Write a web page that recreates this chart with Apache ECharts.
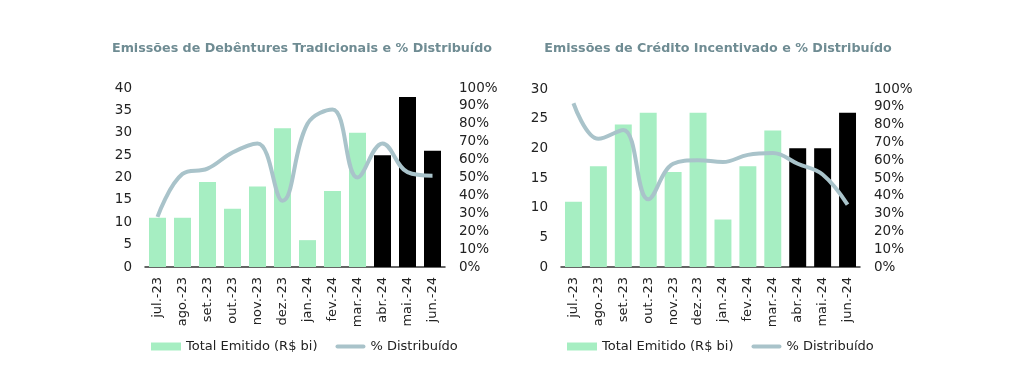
<!DOCTYPE html>
<html>
<head>
<meta charset="utf-8">
<script src="https://cdn.jsdelivr.net/npm/echarts@6/dist/echarts.min.js"></script>
<style>
html,body{margin:0;padding:0;background:#fff;}
#c{width:1024px;height:387px;}
</style>
</head>
<body>
<div id="c"></div>
<script>
const categories = ['jul.-23','ago.-23','set.-23','out.-23','nov.-23','dez.-23','jan.-24','fev.-24','mar.-24','abr.-24','mai.-24','jun.-24'];
const debTotal = [11, 11, 19, 13, 18, 31, 6, 17, 30, 25, 38, 26];
const debPct = [28, 52, 55, 64, 69, 37, 80, 88, 50, 69, 53, 51];
const credTotal = [11, 17, 24, 26, 16, 26, 8, 17, 23, 20, 20, 26];
const credPct = [92, 72, 77, 38, 58, 60, 59, 63, 64, 58, 52, 35];
const highlightFrom = 9;
const titles = ['Emissões de Debêntures Tradicionais e % Distribuído', 'Emissões de Crédito Incentivado e % Distribuído'];
const leftTicks = [{max:40, interval:5}, {max:30, interval:5}];

const FONT = 'DejaVu Sans';
const GREEN = '#a6eec2';
const LINE = '#a9c3ca';
const TXT = '#222';
const LINE_ICON = 'path://M2,0 L28,0 A2,2 0 0 1 28,4 L2,4 A2,2 0 0 1 2,0 Z';

const grids = [
  {left:145, right:579, top:88, bottom:120},
  {left:561, right:164, top:89, bottom:120}
];

function barData(vals){
  return vals.map((v,i)=> i>=highlightFrom ? {value:v, itemStyle:{color:'#000'}} : v);
}

const option = {
  animation:false,
  textStyle:{fontFamily:FONT},
  title: titles.map((t,i)=>({
    text:t, left: i===0 ? 297 : 713, top:37, textAlign:'center',
    textStyle:{fontSize:12.7, fontWeight:'bold', color:'#6f8c93', fontFamily:FONT}
  })),
  legend: [0,1].map(i=>({
    left: i===0 ? 146 : 562, top:335, itemWidth:30, itemHeight:8, itemGap:18,
    textStyle:{fontSize:13, color:TXT, fontFamily:FONT},
    data:[{name:'Total Emitido (R$ bi)', icon:'rect'}, {name:'% Distribuído', icon:LINE_ICON}],
    selectedMode:false
  })),
  grid: grids,
  xAxis: [0,1].map(i=>({
    type:'category', gridIndex:i, data:categories,
    axisLine:{lineStyle:{color:'#333', width:1.5}},
    axisTick:{show:false},
    axisLabel:{rotate:90, fontSize:13, color:TXT, margin:10, fontFamily:FONT}
  })),
  yAxis: [
    {type:'value', gridIndex:0, min:0, max:leftTicks[0].max, interval:leftTicks[0].interval,
     splitLine:{show:false}, axisLine:{show:false}, axisTick:{show:false},
     axisLabel:{fontSize:13.5, color:TXT, margin:13, fontFamily:FONT}},
    {type:'value', gridIndex:0, min:0, max:100, interval:10, position:'right',
     splitLine:{show:false}, axisLine:{show:false}, axisTick:{show:false},
     axisLabel:{fontSize:13.5, color:TXT, margin:14, formatter:'{value}%', fontFamily:FONT}},
    {type:'value', gridIndex:1, min:0, max:leftTicks[1].max, interval:leftTicks[1].interval,
     splitLine:{show:false}, axisLine:{show:false}, axisTick:{show:false},
     axisLabel:{fontSize:13.5, color:TXT, margin:13, fontFamily:FONT}},
    {type:'value', gridIndex:1, min:0, max:100, interval:10, position:'right',
     splitLine:{show:false}, axisLine:{show:false}, axisTick:{show:false},
     axisLabel:{fontSize:13.5, color:TXT, margin:14, formatter:'{value}%', fontFamily:FONT}}
  ],
  series: [
    {name:'Total Emitido (R$ bi)', type:'bar', xAxisIndex:0, yAxisIndex:0, data:barData(debTotal),
     barWidth:'68%', itemStyle:{color:GREEN}},
    {name:'% Distribuído', type:'line', xAxisIndex:0, yAxisIndex:1, data:debPct,
     smooth:0.4, symbol:'none', lineStyle:{color:LINE, width:4}, itemStyle:{color:LINE}},
    {name:'Total Emitido (R$ bi)', type:'bar', xAxisIndex:1, yAxisIndex:2, data:barData(credTotal),
     barWidth:'68%', itemStyle:{color:GREEN}},
    {name:'% Distribuído', type:'line', xAxisIndex:1, yAxisIndex:3, data:credPct,
     smooth:0.4, symbol:'none', lineStyle:{color:LINE, width:4}, itemStyle:{color:LINE}}
  ]
};
echarts.init(document.getElementById('c')).setOption(option);
</script>
</body>
</html>
